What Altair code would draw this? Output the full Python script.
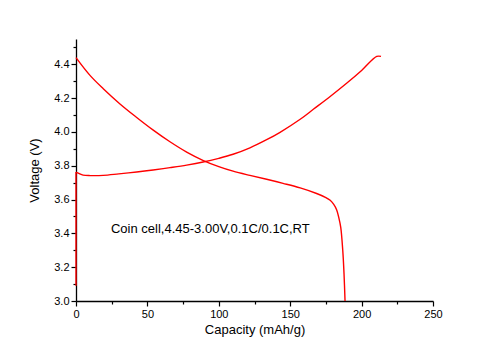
import altair as alt
import pandas as pd

# Discharge curve (capacity mAh/g, voltage V)
dis_cap = [0, 9.8, 19.1, 30.8, 42.5, 54.1, 65.8, 77.5, 89.2, 100, 110, 121.8, 133.5,
           145, 157, 168.5, 175, 178, 180.5, 182.5, 184, 185.4, 186.8, 187.7, 188.4]
dis_v = [4.44, 4.335, 4.256, 4.166, 4.086, 4.011, 3.942, 3.881, 3.831, 3.795, 3.768, 3.743, 3.72,
         3.696, 3.669, 3.636, 3.612, 3.596, 3.572, 3.54, 3.495, 3.435, 3.30, 3.16, 3.0]

# Charge curve (after the initial jump at zero capacity)
chg_cap = [0, 2, 5, 10, 19, 30, 42.5, 54, 65.8, 77.5, 89, 100, 110, 121.8, 133.5,
           142.9, 157, 166.2, 178, 189.5, 200, 210.6, 213.6]
chg_v = [3.763, 3.755, 3.745, 3.742, 3.743, 3.752, 3.763, 3.775, 3.789, 3.804, 3.822,
         3.844, 3.868, 3.906, 3.954, 3.998, 4.075, 4.134, 4.210, 4.288, 4.364, 4.447, 4.447]

# Initial voltage jump of the charge curve at zero capacity
jump_cap = [0, 0]
jump_v = [3.09, 3.763]

x_ticks = [0, 25, 50, 75, 100, 125, 150, 175, 200, 225, 250]
y_ticks = [3.0, 3.1, 3.2, 3.3, 3.4, 3.5, 3.6, 3.7, 3.8, 3.9, 4.0, 4.1, 4.2, 4.3, 4.4, 4.5]

note_text = ["Coin cell,4.45-3.00V,0.1C/0.1C,RT"]
note_x = [24.5]
note_y = [3.425]

rows = []
for i, (c, v) in enumerate(zip(dis_cap, dis_v)):
    rows.append({"cap": c, "v": v, "series": "discharge", "idx": i})
for i, (c, v) in enumerate(zip(chg_cap, chg_v)):
    rows.append({"cap": c, "v": v, "series": "charge", "idx": i})
df = pd.DataFrame(rows)
jump_df = pd.DataFrame({"cap": jump_cap, "v": jump_v, "idx": [0, 1]})

note_df = pd.DataFrame({"t": note_text, "x": note_x, "y": note_y})

FONT = "Liberation Sans"

x_scale = alt.Scale(domain=[0, 250], nice=False, zero=False)
y_scale = alt.Scale(domain=[3.0, 4.55], nice=False, zero=False)

x_axis = alt.Axis(
    title="Capacity (mAh/g)", values=x_ticks, grid=False,
    labelExpr="datum.value % 50 === 0 ? format(datum.value, 'd') : ''",
    tickSize={"condition": {"test": "datum.value % 50 === 0", "value": 5}, "value": 3},
    labelPadding=2, titlePadding=4, labelFlush=False, labelOverlap=False,
)
y_axis = alt.Axis(
    title="Voltage (V)", values=y_ticks, grid=False,
    labelExpr="round(datum.value * 10) % 2 === 0 ? format(datum.value, '.1f') : ''",
    tickSize={"condition": {"test": "round(datum.value * 10) % 2 === 0", "value": 5}, "value": 3},
    labelPadding=2, titlePadding=12, labelFlush=False, labelOverlap=False,
)

lines = alt.Chart(df).mark_line(
    color="#ff0000", strokeWidth=1.4, interpolate="catmull-rom"
).encode(
    x=alt.X("cap:Q", scale=x_scale, axis=x_axis),
    y=alt.Y("v:Q", scale=y_scale, axis=y_axis),
    detail="series:N",
    order="idx:Q",
)

jump = alt.Chart(jump_df).mark_line(color="#ff0000", strokeWidth=1.4).encode(
    x=alt.X("cap:Q", scale=x_scale, axis=x_axis),
    y=alt.Y("v:Q", scale=y_scale, axis=y_axis),
    order="idx:Q",
)

note = alt.Chart(note_df).mark_text(
    align="left", baseline="middle", font=FONT, fontSize=13, color="#000000"
).encode(
    x=alt.X("x:Q", scale=x_scale, axis=x_axis),
    y=alt.Y("y:Q", scale=y_scale, axis=y_axis),
    text="t:N",
)

chart = alt.layer(lines, jump, note).properties(
    width=357, height=262,
    autosize=alt.AutoSizeParams(type="none"),
    padding={"left": 68, "top": 31, "right": 30, "bottom": 40},
).configure_view(stroke=None).configure_axis(
    domainColor="#000000", domainWidth=1.3, tickColor="#000000", tickWidth=1.2,
    labelFont=FONT, labelFontSize=11, labelColor="#000000", labelOverlap=False,
    titleFont=FONT, titleFontSize=13, titleFontWeight="normal", titleColor="#000000",
)

chart.save("out.html", embed_options={"renderer": "svg", "actions": False})
